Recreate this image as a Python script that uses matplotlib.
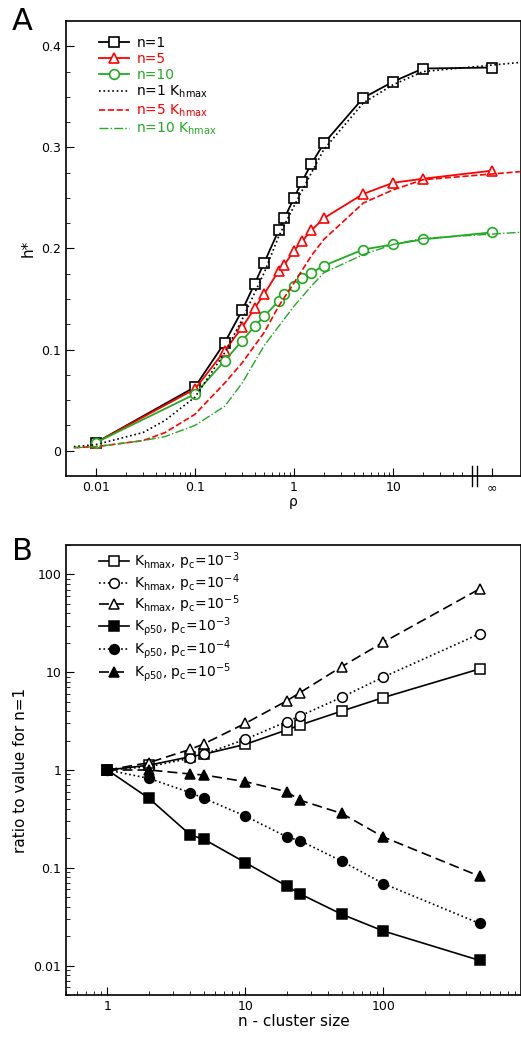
import numpy as np
import matplotlib
matplotlib.use('Agg')
import matplotlib.pyplot as plt
from matplotlib.ticker import FixedLocator, NullFormatter

# ── Panel A data ──────────────────────────────────────
INF = 100.0  # position used for rho = infinity
rho = [0.01, 0.1, 0.2, 0.3, 0.4, 0.5, 0.7, 0.8, 1, 1.2, 1.5, 2, 5, 10, 20, INF]
h_n1 = [0.008, 0.063, 0.107, 0.139, 0.165, 0.186, 0.218, 0.230, 0.250, 0.266,
        0.284, 0.304, 0.349, 0.365, 0.378, 0.379]
h_n5 = [0.008, 0.061, 0.099, 0.122, 0.141, 0.155, 0.178, 0.184, 0.198, 0.207,
        0.218, 0.230, 0.254, 0.265, 0.269, 0.277]
h_n10 = [0.008, 0.056, 0.089, 0.109, 0.123, 0.133, 0.148, 0.155, 0.163, 0.171,
         0.176, 0.183, 0.199, 0.204, 0.209, 0.216]

rho_k = [0.006, 0.01, 0.03, 0.05, 0.1, 0.2, 0.3, 0.5, 0.7, 1, 1.5, 2, 5, 10, 20, 190]
k_n1 = [0.004, 0.006, 0.018, 0.030, 0.053, 0.097, 0.130, 0.176, 0.212, 0.242,
        0.275, 0.298, 0.344, 0.362, 0.375, 0.384]
k_n5 = [0.003, 0.004, 0.010, 0.018, 0.036, 0.067, 0.087, 0.117, 0.143, 0.166,
        0.193, 0.209, 0.245, 0.258, 0.268, 0.276]
k_n10 = [0.003, 0.004, 0.010, 0.014, 0.025, 0.044, 0.067, 0.104, 0.123, 0.143,
         0.163, 0.176, 0.194, 0.204, 0.210, 0.216]

# ── Panel B data ──────────────────────────────────────
n = [1, 2, 4, 5, 10, 20, 25, 50, 100, 500]
hmax_3 = [1, 1.12, 1.37, 1.45, 1.83, 2.57, 2.89, 4.0, 5.5, 10.8]
hmax_4 = [1, 1.08, 1.32, 1.45, 2.06, 3.13, 3.57, 5.55, 8.9, 24.7]
hmax_5 = [1, 1.19, 1.63, 1.85, 3.0, 5.1, 6.2, 11.4, 20.2, 71]
p50_3 = [1, 0.513, 0.216, 0.196, 0.113, 0.065, 0.054, 0.0335, 0.0226, 0.0113]
p50_4 = [1, 0.82, 0.586, 0.513, 0.338, 0.207, 0.189, 0.117, 0.069, 0.027]
p50_5 = [1, 1.0, 0.91, 0.89, 0.76, 0.60, 0.49, 0.36, 0.207, 0.082]

GREEN = '#22aa22'
fig = plt.figure(figsize=(5.21, 10.49), dpi=100)
axA = fig.add_axes([66/521, 1 - 476/1049, 455/521, 455/1049])
axB = fig.add_axes([66/521, 1 - 995/1049, 455/521, 450/1049])

mk = dict(markersize=7, markerfacecolor='white', markeredgewidth=1.2, lw=1.3)
axA.plot(rho, h_n1, '-s', color='black', label='n=1', **mk)
axA.plot(rho, h_n5, '-^', color='red', label='n=5', **mk)
axA.plot(rho, h_n10, '-o', color=GREEN, label='n=10', **mk)
axA.plot(rho_k, k_n1, ':', color='black', lw=1.2, label=r'n=1 K$_{\rm hmax}$')
axA.plot(rho_k, k_n5, '--', color='red', lw=1.2, label=r'n=5 K$_{\rm hmax}$')
axA.plot(rho_k, k_n10, '-.', color=GREEN, lw=1.0, label=r'n=10 K$_{\rm hmax}$')
axA.set_xscale('log')
axA.set_xlim(0.005, 195)
axA.set_ylim(-0.025, 0.425)
axA.set_yticks([0, 0.1, 0.2, 0.3, 0.4])
axA.set_yticklabels(['0', '0.1', '0.2', '0.3', '0.4'])
axA.yaxis.set_minor_locator(FixedLocator(np.arange(-0.0, 0.41, 0.025)))
axA.set_xticks([0.01, 0.1, 1, 10, INF])
axA.set_xticklabels(['0.01', '0.1', '1', '10', '∞'])
minors = [m * d for d in (0.01, 0.1, 1) for m in range(2, 10)] + [20, 30, 40, 50]
axA.xaxis.set_minor_locator(FixedLocator(minors))
axA.xaxis.set_minor_formatter(NullFormatter())
axA.set_xlabel('ρ', fontsize=10, labelpad=1)
axA.set_ylabel('h*', fontsize=11)
for xb in (63, 70):
    axA.plot([xb, xb], [-0.035, -0.015], color='black', lw=1, clip_on=False)
leg = axA.legend(loc='upper left', bbox_to_anchor=(0.06, 0.98), frameon=False,
                 fontsize=10, handlelength=2.2, handletextpad=0.5,
                 labelspacing=0.15, borderaxespad=0)
for t, c in zip(leg.get_texts(), ['black', 'red', GREEN, 'black', 'red', GREEN]):
    t.set_color(c)

# Panel B
mb = dict(markersize=7, markeredgewidth=1.1, color='black', lw=1.2)
axB.plot(n, hmax_3, '-s', markerfacecolor='white',
         label=r'K$_{\rm hmax}$, p$_{\rm c}$=10$^{-3}$', **mb)
axB.plot(n, hmax_4, ':o', markerfacecolor='white',
         label=r'K$_{\rm hmax}$, p$_{\rm c}$=10$^{-4}$', **mb)
axB.plot(n, hmax_5, '--^', markerfacecolor='white', dashes=(6, 3),
         label=r'K$_{\rm hmax}$, p$_{\rm c}$=10$^{-5}$', **mb)
axB.plot(n, p50_3, '-s', label=r'K$_{\rm \rho 50}$, p$_{\rm c}$=10$^{-3}$', **mb)
axB.plot(n, p50_4, ':o', label=r'K$_{\rm \rho 50}$, p$_{\rm c}$=10$^{-4}$', **mb)
axB.plot(n, p50_5, '--^', dashes=(6, 3),
         label=r'K$_{\rm \rho 50}$, p$_{\rm c}$=10$^{-5}$', **mb)
axB.set_xscale('log')
axB.set_yscale('log')
axB.set_xlim(0.5, 1000)
axB.set_ylim(0.005, 200)
axB.set_xticks([1, 10, 100])
axB.set_xticklabels(['1', '10', '100'])
axB.set_yticks([0.01, 0.1, 1, 10, 100])
axB.set_yticklabels(['0.01', '0.1', '1', '10', '100'])
axB.set_xlabel('n - cluster size', fontsize=11, labelpad=1)
axB.set_ylabel('ratio to value for n=1', fontsize=11)
axB.legend(loc='upper left', bbox_to_anchor=(0.06, 1.0), frameon=False,
           fontsize=10, handlelength=2.2, handletextpad=0.3,
           labelspacing=0.0, borderaxespad=0)

for ax in (axA, axB):
    ax.tick_params(which='both', direction='in', labelsize=9)
    ax.tick_params(which='major', length=6)
    ax.tick_params(which='minor', length=3)
    for s in ax.spines.values():
        s.set_linewidth(1.2)

fig.text(12/521, 1 - 30/1049, 'A', fontsize=22)
fig.text(12/521, 1 - 560/1049, 'B', fontsize=22)
fig.savefig('out.png', dpi=100)
